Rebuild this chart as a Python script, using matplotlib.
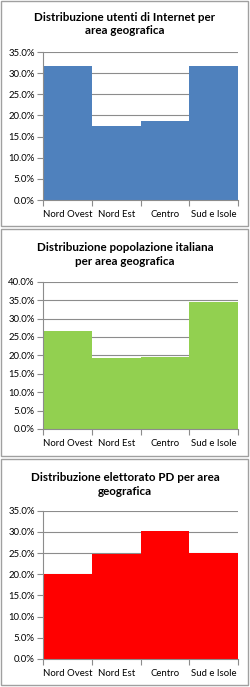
import numpy as np
import matplotlib
matplotlib.use("Agg")
import matplotlib.pyplot as plt
from matplotlib.patches import Rectangle
from matplotlib.ticker import FuncFormatter

plt.rcParams['font.family'] = ['Lato', 'DejaVu Sans']

aree = ['Nord Ovest', 'Nord Est', 'Centro', 'Sud e Isole']
internet = [31.8, 17.6, 18.8, 31.8]
popolazione = [26.6, 19.2, 19.6, 34.5]
elettorato = [20.1, 24.8, 30.2, 24.9]

titoli = ['Distribuzione utenti di Internet per\narea geografica',
          'Distribuzione popolazione italiana\nper area geografica',
          'Distribuzione elettorato PD per area\ngeografica']
colori = ['#4F81BD', '#92D050', '#FF0000']
ymax = [35, 40, 35]

W, H = 250, 687
fig = plt.figure(figsize=(W / 100, H / 100), dpi=100)

# panel boxes (pixel top, bottom) and plot area (pixel top, bottom)
boxes = [(1, 226), (229, 456), (459, 685)]
areas = [(52, 200), (281.7, 429), (510.7, 659)]
title_y = [24, 254.5, 484.5]

for i, valori in enumerate([internet, popolazione, elettorato]):
    bt, bb = boxes[i]
    fig.patches.append(Rectangle((1 / W, 1 - bb / H), 247 / W, (bb - bt) / H,
                                 transform=fig.transFigure, fill=False,
                                 edgecolor='#A0A0A0', lw=1))
    at, ab = areas[i]
    ax = fig.add_axes([43 / W, 1 - ab / H, 195 / W, (ab - at) / H])
    x = np.arange(len(aree))
    ax.bar(x, valori, width=1.0, align='edge', color=colori[i], zorder=2)
    ax.set_xlim(0, len(aree))
    ax.set_ylim(0, ymax[i])
    ax.set_yticks(np.arange(0, ymax[i] + 0.1, 5))
    ax.yaxis.set_major_formatter(FuncFormatter(lambda v, p: '%.1f%%' % v))
    ax.yaxis.grid(True, color='#8C8C8C', lw=0.8, zorder=0)
    ax.set_xticks(x.tolist() + [len(aree)])
    ax.set_xticklabels([])
    ax.set_xticks(x + 0.5, minor=True)
    ax.set_xticklabels(aree, minor=True)
    ax.tick_params(axis='x', which='minor', length=0, pad=7, labelsize=6.9)
    ax.tick_params(axis='x', which='major', length=4, color='#8C8C8C')
    ax.tick_params(axis='y', length=4, color='#8C8C8C', labelsize=6.9, pad=2)
    for s in ['top', 'right']:
        ax.spines[s].set_visible(False)
    for s in ['left', 'bottom']:
        ax.spines[s].set_color('#8C8C8C')
        ax.spines[s].set_linewidth(0.8)
    ax.set_axisbelow(True)
    fig.text(125 / W, 1 - title_y[i] / H, titoli[i], ha='center', va='center',
             fontsize=8.4, fontweight='bold', linespacing=1.3)

fig.savefig('out.png', dpi=100)
